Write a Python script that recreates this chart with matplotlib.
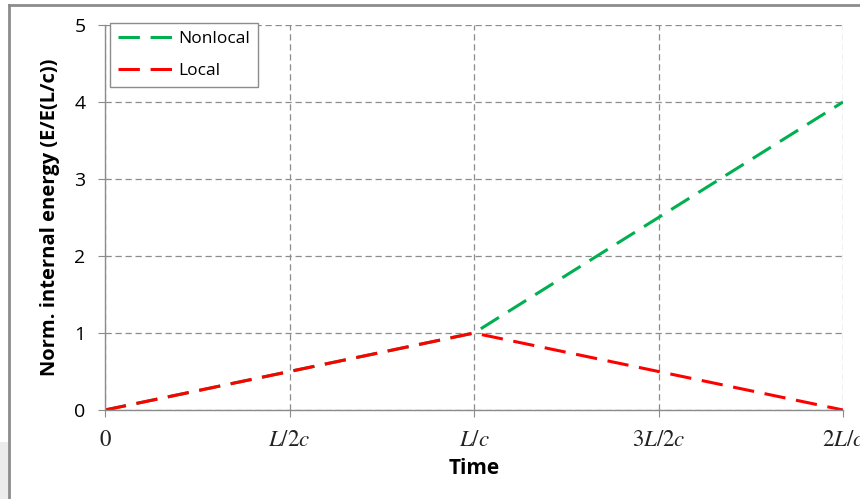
import matplotlib.pyplot as plt
from matplotlib.lines import Line2D
from matplotlib.patches import Rectangle

# Daten (Zeit in Einheiten von L/c)
time = [0, 1, 2]
nonlocal_energy = [0, 1, 4]
local_energy = [0, 1, 0]
x_ticks = [0, 0.5, 1, 1.5, 2]
x_labels = ['$0$', '$L/2c$', '$L/c$', '$3L/2c$', '$2L/c$']
y_ticks = [0, 1, 2, 3, 4, 5]

plt.rcParams['mathtext.fontset'] = 'stix'
plt.rcParams['font.family'] = ['Open Sans', 'DejaVu Sans']

W, H = 860, 499
fig = plt.figure(figsize=(8.6, 4.99), dpi=100)
ax = fig.add_axes([105 / W, 1 - 410 / H, (843 - 105) / W, (410 - 25) / H])

# Rahmen und graue Ecke wie im Original
fig.add_artist(Rectangle((0, 0), 8 / W, (499 - 442) / H, transform=fig.transFigure,
                         facecolor='#ececec', edgecolor='none'))
fig.add_artist(Line2D([9 / W, 1], [1 - 4.5 / H, 1 - 4.5 / H], transform=fig.transFigure,
                      color='#8c8c8c', lw=2))
fig.add_artist(Line2D([9 / W, 9 / W], [0, 1 - 4.5 / H], transform=fig.transFigure,
                      color='#8c8c8c', lw=2))

ax.plot(time, nonlocal_energy, color='#00b050', lw=2.2, dashes=(7, 3.5), label='Nonlocal')
ax.plot(time, local_energy, color='#ff0000', lw=2.2, dashes=(7, 3.5), label='Local')

ax.set_xlim(0, 2)
ax.set_ylim(0, 5)
ax.set_xticks(x_ticks)
ax.set_xticklabels(x_labels, fontsize=16.5)
ax.set_yticks(y_ticks)
ax.tick_params(axis='y', labelsize=14, colors='#8c8c8c', labelcolor='black', length=5, pad=9)
ax.tick_params(axis='x', colors='#8c8c8c', labelcolor='#222222', length=5, pad=8)
ax.grid(True, color='#8c8c8c', linestyle=(0, (5, 3)), lw=0.9)
ax.set_axisbelow(True)
for s in ['top', 'right']:
    ax.spines[s].set_visible(False)
for s in ['left', 'bottom']:
    ax.spines[s].set_color('#8c8c8c')
    ax.spines[s].set_linewidth(1.0)

ax.set_xlabel('Time', fontsize=15, fontweight='bold', labelpad=4)
ax.set_ylabel('Norm. internal energy (E/E(L/c))', fontsize=14.5, fontweight='bold', labelpad=10)

leg = ax.legend(loc='upper left', bbox_to_anchor=(0.007, 1.005), borderaxespad=0,
                fontsize=12.5, fancybox=False, framealpha=1, edgecolor='#8c8c8c',
                handlelength=3.3, borderpad=0.45, labelspacing=0.9, handletextpad=0.2)
leg.get_frame().set_linewidth(1.0)

fig.savefig('out.png', dpi=100)
